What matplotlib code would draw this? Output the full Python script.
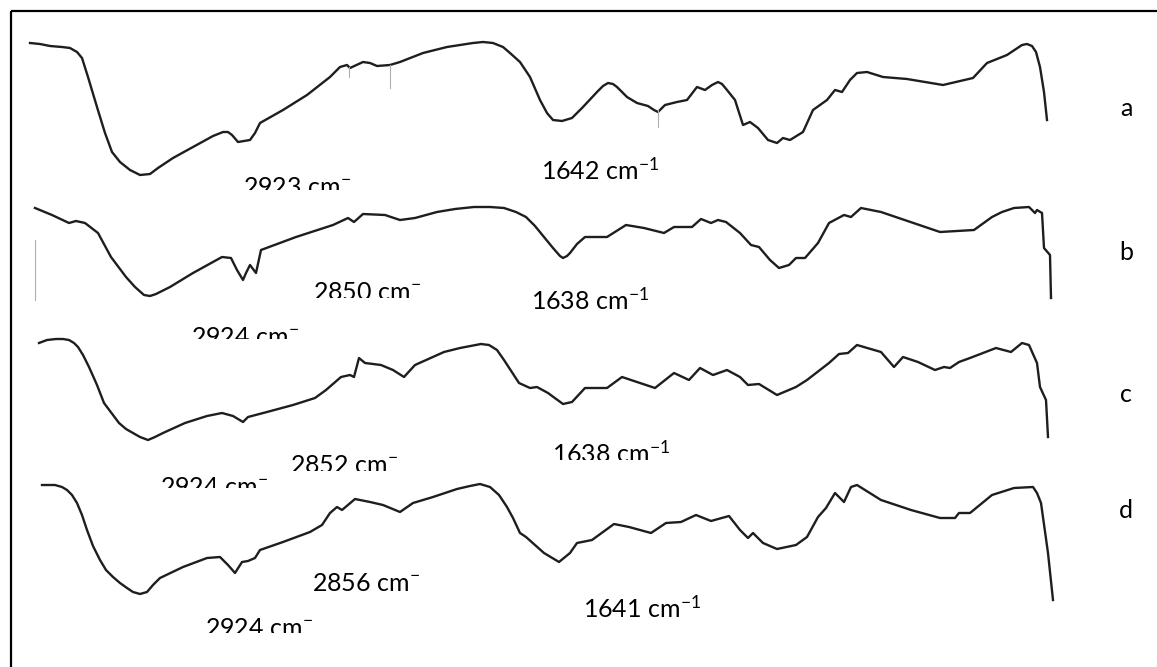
import matplotlib.pyplot as plt
from matplotlib.patches import Rectangle

# --- traced spectra (page pixel coordinates, y grows downward) ------------
a_x = [30, 40, 50, 62, 70, 77, 82, 88, 97, 105, 112, 120, 130, 140, 150, 158, 173, 193, 213,
       223, 228, 232, 238, 250, 255, 260, 283, 307, 330, 340, 347, 350, 363, 370, 377, 390,
       400, 423, 447, 473, 483, 493, 503, 510, 520, 530, 540, 547, 553, 562, 572, 583, 597,
       603, 608, 613, 617, 627, 637, 648, 654, 658, 665, 677, 687, 697, 705, 712, 718, 722,
       727, 735, 743, 750, 758, 768, 777, 783, 790, 803, 813, 827, 835, 842, 850, 857, 867,
       883, 907, 943, 973, 987, 1007, 1022, 1027, 1032, 1036, 1040, 1044, 1047]
a_y = [43, 44, 46, 47, 48, 52, 58, 77, 107, 133, 152, 162, 170, 175, 174, 168, 158, 147, 136,
       132, 132, 135, 142, 140, 133, 123, 110, 95, 77, 67, 65, 68, 62, 63, 66, 65,
       62, 53, 47, 43, 42, 43, 47, 53, 62, 77, 100, 113, 120, 121, 118, 107, 92,
       86, 83, 84, 87, 97, 103, 106, 110, 112, 105, 102, 100, 87, 90, 85, 82, 84,
       90, 100, 125, 122, 128, 140, 143, 138, 140, 132, 110, 100, 90, 92, 80, 73, 72,
       77, 79, 85, 78, 63, 55, 45, 44, 46, 52, 67, 92, 120]

b_x = [35, 52, 69, 76, 85, 98, 111, 126, 135, 144, 150, 156, 170, 193, 222, 231, 237, 243,
       246, 250, 256, 261, 296, 333, 348, 354, 363, 385, 400, 415, 437, 455, 474, 490, 504,
       516, 526, 535, 544, 553, 560, 563, 567, 570, 577, 585, 607, 626, 644, 664, 674, 692,
       701, 711, 718, 726, 740, 751, 759, 770, 779, 789, 796, 805, 818, 829, 844, 851, 861,
       881, 940, 974, 992, 1002, 1014, 1029, 1035, 1037, 1042, 1044, 1050, 1051]
b_y = [208, 215, 223, 221, 223, 233, 257, 277, 287, 295, 296, 294, 287, 273, 257, 258, 270, 280,
       273, 265, 273, 250, 237, 225, 218, 222, 214, 215, 220, 218, 212, 209, 207, 207, 208,
       212, 217, 226, 237, 248, 256, 258, 256, 253, 244, 237, 237, 225, 228, 233, 227, 227,
       219, 223, 220, 222, 233, 245, 247, 260, 268, 265, 258, 258, 243, 223, 215, 217, 208,
       212, 232, 230, 217, 212, 208, 207, 213, 210, 213, 248, 255, 298]

c_x = [39, 47, 56, 63, 69, 74, 78, 83, 89, 97, 104, 119, 126, 133, 140, 148, 155, 163, 185,
       207, 222, 233, 243, 248, 267, 293, 315, 326, 341, 350, 354, 359, 365, 381, 393, 404,
       415, 444, 460, 481, 489, 497, 504, 519, 530, 537, 548, 563, 572, 585, 607, 622, 637,
       655, 674, 689, 700, 713, 727, 740, 748, 759, 777, 796, 807, 829, 839, 848, 857, 881,
       894, 903, 918, 935, 944, 950, 959, 970, 996, 1011, 1022, 1029, 1037, 1040, 1046, 1048]
c_y = [343, 340, 339, 339, 340, 343, 347, 355, 367, 385, 403, 423, 429, 433, 437, 440, 437, 433, 423,
       416, 413, 416, 422, 417, 412, 405, 398, 390, 377, 375, 377, 358, 363, 365, 370, 377,
       365, 352, 348, 344, 345, 350, 360, 383, 388, 387, 393, 404, 402, 388, 388, 377, 382,
       388, 373, 380, 368, 375, 370, 377, 385, 384, 395, 387, 380, 363, 354, 353, 345, 352,
       367, 357, 362, 370, 367, 368, 362, 358, 348, 352, 343, 345, 363, 387, 400, 437]

d_x = [42, 55, 62, 67, 72, 77, 82, 87, 93, 100, 106, 113, 120, 127, 133, 140, 147, 153, 160,
       183, 207, 220, 228, 235, 242, 248, 255, 260, 283, 310, 322, 330, 337, 342, 355, 370,
       383, 400, 413, 433, 457, 470, 480, 490, 499, 507, 513, 520, 526, 544, 559, 570, 577,
       592, 603, 614, 629, 651, 666, 681, 696, 711, 729, 740, 748, 753, 763, 777, 796, 807,
       818, 826, 835, 844, 851, 857, 881, 911, 940, 955, 959, 970, 992, 1014, 1033, 1037,
       1041, 1048, 1053]
d_y = [485, 485, 487, 490, 495, 503, 515, 530, 546, 560, 570, 577, 583, 588, 592, 594, 592, 585, 578,
       567, 558, 557, 565, 573, 562, 561, 558, 550, 542, 532, 525, 513, 507, 510, 499, 502,
       505, 512, 503, 497, 489, 486, 484, 487, 495, 507, 518, 533, 537, 553, 562, 553, 543,
       540, 532, 524, 527, 533, 523, 522, 515, 521, 516, 530, 538, 533, 543, 549, 545, 537,
       517, 508, 493, 502, 487, 485, 500, 510, 518, 518, 513, 513, 495, 488, 487, 493,
       503, 553, 600]

curves = [(a_x, a_y), (b_x, b_y), (c_x, c_y), (d_x, d_y)]

# faint instrument peak ticks
tick_x = [349, 390, 658, 35]
tick_y0 = [67, 65, 110, 240]
tick_y1 = [77, 88, 127, 300]

# band labels: text, left x, baseline y, y where the text box cuts it off
band_text = ["2923 cm$^{-}$", "1642 cm$^{-1}$",
             "2850 cm$^{-}$", "1638 cm$^{-1}$", "2924 cm$^{-}$",
             "2852 cm$^{-}$", "1638 cm$^{-1}$", "2924 cm$^{-}$",
             "2856 cm$^{-}$", "1641 cm$^{-1}$", "2924 cm$^{-}$"]
band_x = [243, 541, 313, 531, 191, 290, 552, 160, 312, 583, 205]
band_base = [195, 180, 300, 310, 345, 473, 463, 495, 591, 618, 636]
band_cut = [190, 200, 298, 309, 339, 471, 460, 488, 591, 617, 633]

sample_names = ["a", "b", "c", "d"]
sample_y = [108, 253, 395, 510]

plt.rcParams["font.family"] = ["Lato", "DejaVu Sans"]
plt.rcParams["mathtext.default"] = "regular"

fig = plt.figure(figsize=(11.57, 6.67), dpi=100)
ax = fig.add_axes([0, 0, 1, 1])
ax.set_xlim(0, 1157)
ax.set_ylim(667, 0)
ax.axis("off")

# page frame (top and left only)
ax.plot([11, 1157], [11, 11], color="black", lw=1.6, solid_capstyle="butt")
ax.plot([11, 11], [11, 667], color="black", lw=1.6, solid_capstyle="butt")

for x, y in curves:
    ax.plot(x, y, color="#1e1e1e", lw=1.7, solid_joinstyle="round")

for x, y0, y1 in zip(tick_x, tick_y0, tick_y1):
    ax.plot([x, x], [y0, y1], color="#b0b0b0", lw=0.8)

for txt, x, yb, yc in zip(band_text, band_x, band_base, band_cut):
    t = ax.text(x, yb, txt, fontsize=18, ha="left", va="baseline", color="black")
    clip = Rectangle((x - 5, 0), 200, yc, transform=ax.transData)
    t.set_clip_path(clip)
    t.set_clip_on(True)

for name, y in zip(sample_names, sample_y):
    ax.text(1126, y, name, fontsize=18, ha="center", va="center", color="black")

fig.savefig("out.png", dpi=100)
